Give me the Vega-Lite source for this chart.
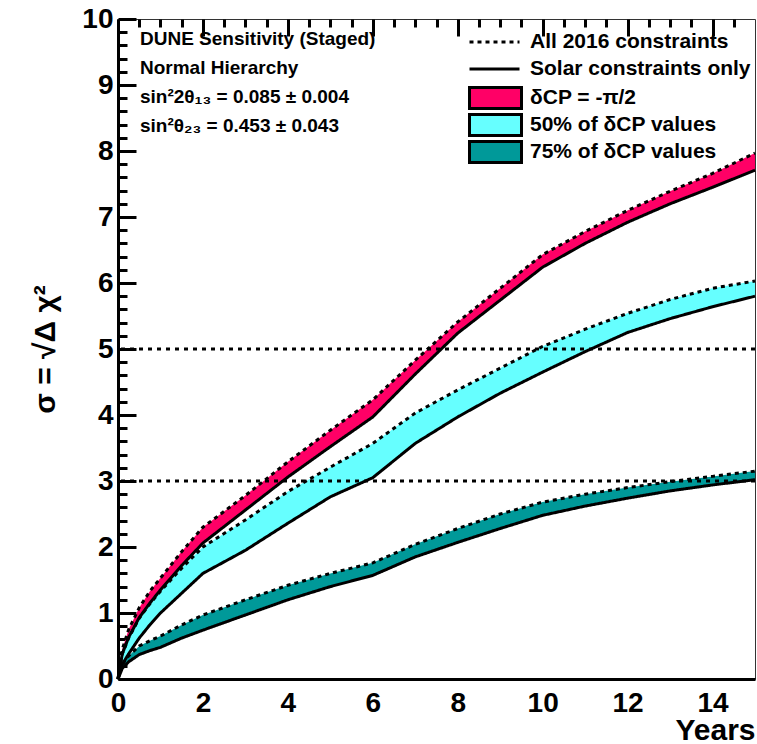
{
  "$schema": "https://vega.github.io/schema/vega-lite/v6.json",
  "width": 637,
  "height": 660,
  "autosize": {"type": "none"},
  "padding": {"left": 118, "top": 19, "right": 2, "bottom": 65},
  "background": "white",
  "config": {
    "view": {"stroke": "#333333", "strokeWidth": 1},
    "font": "Liberation Sans",
    "axis": {"domainColor": "black", "labelColor": "black", "titleColor": "black", "labelFont": "Liberation Sans", "labelFontWeight": "bold", "titleFont": "Liberation Sans", "titleFontWeight": "bold", "labelFlush": false, "labelOverlap": false}
  },
  "title": {
    "text": ["DUNE Sensitivity (Staged)", "Normal Hierarchy", "sin²2θ₁₃ = 0.085 ± 0.004", "sin²θ₂₃ = 0.453 ± 0.043"],
    "anchor": "start", "frame": "group", "orient": "top", "offset": 0, "dx": 22, "dy": 131,
    "baseline": "top", "font": "Liberation Sans", "fontSize": 19, "fontWeight": "bold", "lineHeight": 29, "color": "black"
  },
  "datasets": {
    "sens": [
      {"year": 0, "band": "δCP = -π/2", "all2016": 0, "solar": 0},
      {"year": 0.1, "band": "δCP = -π/2", "all2016": 0.45, "solar": 0.38},
      {"year": 0.25, "band": "δCP = -π/2", "all2016": 0.75, "solar": 0.63},
      {"year": 0.5, "band": "δCP = -π/2", "all2016": 1.08, "solar": 0.93},
      {"year": 0.75, "band": "δCP = -π/2", "all2016": 1.33, "solar": 1.15},
      {"year": 1, "band": "δCP = -π/2", "all2016": 1.53, "solar": 1.35},
      {"year": 1.5, "band": "δCP = -π/2", "all2016": 1.93, "solar": 1.72},
      {"year": 2, "band": "δCP = -π/2", "all2016": 2.3, "solar": 2.06},
      {"year": 3, "band": "δCP = -π/2", "all2016": 2.78, "solar": 2.56},
      {"year": 4, "band": "δCP = -π/2", "all2016": 3.29, "solar": 3.06},
      {"year": 5, "band": "δCP = -π/2", "all2016": 3.77, "solar": 3.52},
      {"year": 6, "band": "δCP = -π/2", "all2016": 4.23, "solar": 3.97},
      {"year": 7, "band": "δCP = -π/2", "all2016": 4.83, "solar": 4.62},
      {"year": 8, "band": "δCP = -π/2", "all2016": 5.41, "solar": 5.24},
      {"year": 9, "band": "δCP = -π/2", "all2016": 5.92, "solar": 5.74},
      {"year": 10, "band": "δCP = -π/2", "all2016": 6.43, "solar": 6.24},
      {"year": 11, "band": "δCP = -π/2", "all2016": 6.78, "solar": 6.6},
      {"year": 12, "band": "δCP = -π/2", "all2016": 7.1, "solar": 6.92},
      {"year": 13, "band": "δCP = -π/2", "all2016": 7.39, "solar": 7.2},
      {"year": 14, "band": "δCP = -π/2", "all2016": 7.66, "solar": 7.45},
      {"year": 15, "band": "δCP = -π/2", "all2016": 7.97, "solar": 7.71},
      {"year": 0, "band": "50% of δCP values", "all2016": 0, "solar": 0},
      {"year": 0.1, "band": "50% of δCP values", "all2016": 0.38, "solar": 0.22},
      {"year": 0.25, "band": "50% of δCP values", "all2016": 0.62, "solar": 0.38},
      {"year": 0.5, "band": "50% of δCP values", "all2016": 0.92, "solar": 0.62},
      {"year": 0.75, "band": "50% of δCP values", "all2016": 1.14, "solar": 0.82},
      {"year": 1, "band": "50% of δCP values", "all2016": 1.33, "solar": 1.0},
      {"year": 1.5, "band": "50% of δCP values", "all2016": 1.68, "solar": 1.3},
      {"year": 2, "band": "50% of δCP values", "all2016": 2.0, "solar": 1.6},
      {"year": 3, "band": "50% of δCP values", "all2016": 2.41, "solar": 1.95},
      {"year": 4, "band": "50% of δCP values", "all2016": 2.84, "solar": 2.36},
      {"year": 5, "band": "50% of δCP values", "all2016": 3.21, "solar": 2.76},
      {"year": 6, "band": "50% of δCP values", "all2016": 3.57, "solar": 3.05},
      {"year": 7, "band": "50% of δCP values", "all2016": 4.03, "solar": 3.57},
      {"year": 8, "band": "50% of δCP values", "all2016": 4.38, "solar": 3.97},
      {"year": 9, "band": "50% of δCP values", "all2016": 4.71, "solar": 4.33},
      {"year": 10, "band": "50% of δCP values", "all2016": 5.04, "solar": 4.65},
      {"year": 11, "band": "50% of δCP values", "all2016": 5.3, "solar": 4.96},
      {"year": 12, "band": "50% of δCP values", "all2016": 5.54, "solar": 5.25},
      {"year": 13, "band": "50% of δCP values", "all2016": 5.75, "solar": 5.46},
      {"year": 14, "band": "50% of δCP values", "all2016": 5.92, "solar": 5.64},
      {"year": 15, "band": "50% of δCP values", "all2016": 6.03, "solar": 5.8},
      {"year": 0, "band": "75% of δCP values", "all2016": 0, "solar": 0},
      {"year": 0.1, "band": "75% of δCP values", "all2016": 0.22, "solar": 0.16},
      {"year": 0.25, "band": "75% of δCP values", "all2016": 0.35, "solar": 0.26},
      {"year": 0.5, "band": "75% of δCP values", "all2016": 0.5, "solar": 0.37},
      {"year": 0.75, "band": "75% of δCP values", "all2016": 0.58, "solar": 0.43},
      {"year": 1, "band": "75% of δCP values", "all2016": 0.65, "solar": 0.48},
      {"year": 1.5, "band": "75% of δCP values", "all2016": 0.82, "solar": 0.62},
      {"year": 2, "band": "75% of δCP values", "all2016": 0.97, "solar": 0.74},
      {"year": 3, "band": "75% of δCP values", "all2016": 1.2, "solar": 0.97},
      {"year": 4, "band": "75% of δCP values", "all2016": 1.42, "solar": 1.2},
      {"year": 5, "band": "75% of δCP values", "all2016": 1.6, "solar": 1.4},
      {"year": 6, "band": "75% of δCP values", "all2016": 1.76, "solar": 1.57},
      {"year": 7, "band": "75% of δCP values", "all2016": 2.04, "solar": 1.85},
      {"year": 8, "band": "75% of δCP values", "all2016": 2.28, "solar": 2.07},
      {"year": 9, "band": "75% of δCP values", "all2016": 2.5, "solar": 2.28},
      {"year": 10, "band": "75% of δCP values", "all2016": 2.68, "solar": 2.48},
      {"year": 11, "band": "75% of δCP values", "all2016": 2.8, "solar": 2.62},
      {"year": 12, "band": "75% of δCP values", "all2016": 2.9, "solar": 2.74},
      {"year": 13, "band": "75% of δCP values", "all2016": 2.99, "solar": 2.85},
      {"year": 14, "band": "75% of δCP values", "all2016": 3.07, "solar": 2.94},
      {"year": 15, "band": "75% of δCP values", "all2016": 3.15, "solar": 3.02}
    ],
    "levels": [{"level": 3}, {"level": 5}]
  },
  "resolve": {"axis": {"x": "independent", "y": "independent"}},
  "layer": [
    {
      "data": {"name": "sens"},
      "mark": {"type": "area", "opacity": 1},
      "encoding": {
        "x": {"field": "year", "type": "quantitative", "scale": {"domain": [0, 15], "nice": false, "zero": false},
          "axis": {"orient": "bottom", "domain": true, "domainWidth": 3, "ticks": false,
            "values": [0, 0.5, 1, 1.5, 2, 2.5, 3, 3.5, 4, 4.5, 5, 5.5, 6, 6.5, 7, 7.5, 8, 8.5, 9, 9.5, 10, 10.5, 11, 11.5, 12, 12.5, 13, 13.5, 14, 14.5],
            "grid": true, "gridColor": "black", "gridOpacity": 1, "gridWidth": 3,
            "gridDash": {"condition": {"test": "datum.value % 2 != 0", "value": [8, 2000]}, "value": [17, 2000]},
            "labelExpr": "datum.value % 2 == 0 ? format(datum.value, 'd') : ''",
            "labelFontSize": 28, "labelPadding": 10,
            "title": "Years", "titleFontSize": 30, "titleAnchor": "end", "titleAlign": "right", "titleX": 637, "titleY": 60, "titleBaseline": "alphabetic"}},
        "y": {"field": "all2016", "type": "quantitative", "scale": {"domain": [0, 10], "nice": false, "zero": false},
          "axis": {"orient": "left", "domain": true, "domainWidth": 3, "ticks": false,
            "values": [0, 0.2, 0.4, 0.6, 0.8, 1, 1.2, 1.4, 1.6, 1.8, 2, 2.2, 2.4, 2.6, 2.8, 3, 3.2, 3.4, 3.6, 3.8, 4, 4.2, 4.4, 4.6, 4.8, 5, 5.2, 5.4, 5.6, 5.8, 6, 6.2, 6.4, 6.6, 6.8, 7, 7.2, 7.4, 7.6, 7.8, 8, 8.2, 8.4, 8.6, 8.8, 9, 9.2, 9.4, 9.6, 9.8, 10],
            "grid": true, "gridColor": "black", "gridOpacity": 1, "gridWidth": 3,
            "gridDash": {"condition": {"test": "abs(datum.value - round(datum.value)) > 0.01", "value": [9, 2000]}, "value": [18, 2000]},
            "labelExpr": "abs(datum.value - round(datum.value)) < 0.01 ? format(datum.value, 'd') : ''",
            "labelFontSize": 28, "labelPadding": 5,
            "title": "σ = √Δ χ²", "titleFontSize": 30, "titleAngle": -90, "titleX": -73, "titleY": 330, "titleAlign": "center", "titleBaseline": "middle"}},
        "y2": {"field": "solar"},
        "fill": {"field": "band", "type": "nominal",
          "scale": {"domain": ["δCP = -π/2", "50% of δCP values", "75% of δCP values"], "range": ["#ff0066", "#66ffff", "#009999"]},
          "legend": {"title": null, "orient": "none", "legendX": 350, "legendY": 65.5, "padding": 0, "clipHeight": 27,
            "symbolType": "M-1,-0.4H1V0.4H-1Z", "symbolSize": 2704, "symbolStrokeWidth": 3, "symbolStrokeColor": "black", "symbolOpacity": 1,
            "labelFont": "Liberation Sans", "labelFontSize": 21, "labelFontWeight": "bold", "labelColor": "black", "labelOffset": 7, "labelLimit": 400, "rowPadding": 0}}
      }
    },
    {
      "data": {"name": "sens"},
      "transform": [{"fold": ["all2016", "solar"], "as": ["constraint", "sigma"]}],
      "mark": {"type": "line", "color": "black", "strokeWidth": 3, "strokeCap": "butt"},
      "encoding": {
        "x": {"field": "year", "type": "quantitative", "scale": {"domain": [0, 15], "nice": false, "zero": false}, "axis": null},
        "y": {"field": "sigma", "type": "quantitative", "scale": {"domain": [0, 10], "nice": false, "zero": false}, "axis": null},
        "detail": {"field": "band", "type": "nominal"},
        "strokeDash": {"field": "constraint", "type": "nominal",
          "scale": {"domain": ["all2016", "solar"], "range": [[4, 4], [1, 0]]},
          "legend": {"title": null, "orient": "none", "legendX": 350, "legendY": 9.5, "padding": 0, "clipHeight": 27,
            "symbolType": "stroke", "symbolSize": 2500, "symbolStrokeWidth": 3, "symbolStrokeColor": "black",
            "labelExpr": "datum.label == 'all2016' ? 'All 2016 constraints' : 'Solar constraints only'",
            "labelFont": "Liberation Sans", "labelFontSize": 21, "labelFontWeight": "bold", "labelColor": "black", "labelOffset": 9, "labelLimit": 400, "rowPadding": 0}}
      }
    },
    {
      "data": {"name": "levels"},
      "mark": {"type": "rule", "color": "black", "strokeWidth": 3, "strokeDash": [4, 5]},
      "encoding": {
        "y": {"field": "level", "type": "quantitative", "scale": {"domain": [0, 10], "nice": false, "zero": false}, "axis": null}
      }
    }
  ]
}
